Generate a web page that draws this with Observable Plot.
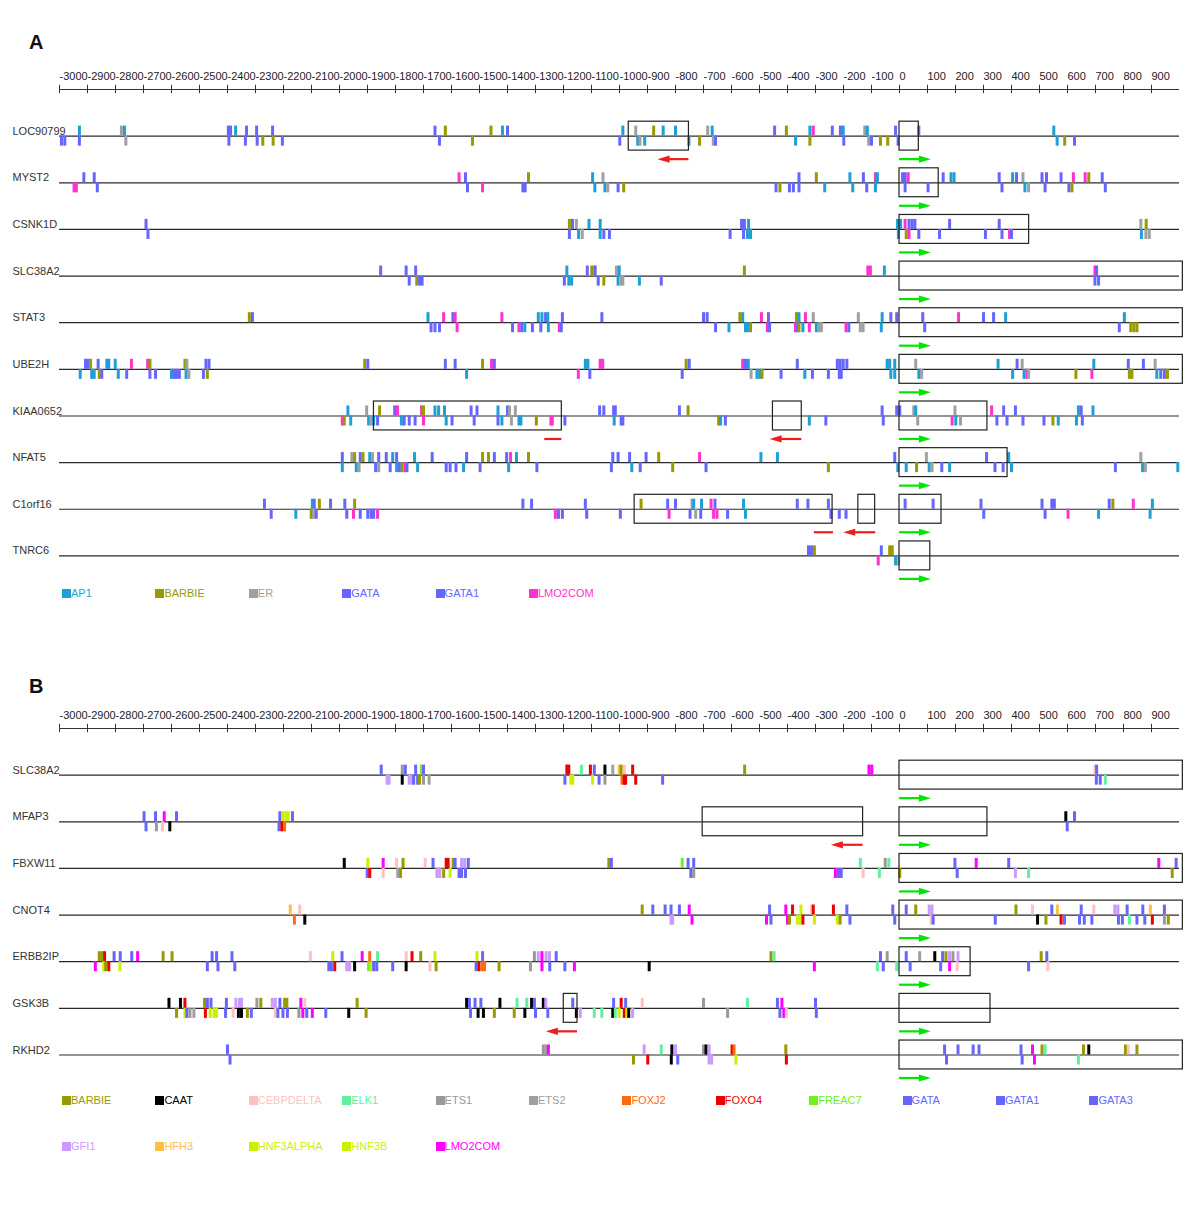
<!DOCTYPE html>
<html><head><meta charset="utf-8">
<script src="https://cdn.jsdelivr.net/npm/d3@7"></script>
<script src="https://cdn.jsdelivr.net/npm/@observablehq/plot@0.6"></script>
<style>
body{margin:0;background:#fff;font-family:"Liberation Sans",Arial,sans-serif;}
#page{position:relative;width:1200px;height:1211px;overflow:hidden;background:#fff;}
.title{position:absolute;left:29px;font-weight:bold;font-size:20px;line-height:20px;color:#111;}
.panel{position:absolute;left:0;}
.leg{position:absolute;height:13px;font-size:11px;line-height:13px;white-space:nowrap;}
.leg .sw{position:absolute;left:0;top:2px;width:9px;height:9px;}
.leg .tx{position:absolute;left:9px;top:0;}
</style></head>
<body><div id="page"></div>
<script>
// ---------- axis ----------
const ticks = d3.range(-3000, 901, 100);

// ---------- panel A factors ----------
const factorsA = ["AP1","BARBIE","ER","GATA","GATA1","LMO2COM"];
const colorsA  = ["#1f9fd4","#999900","#a0a0a0","#6666ff","#6666ff","#ff33cc"];
const codesA = {AP:"AP1",BA:"BARBIE",ER:"ER",G:"GATA",G1:"GATA1",LM:"LMO2COM"};

// ---------- panel B factors ----------
const factorsB = ["BARBIE","CAAT","CEBPDELTA","ELK1","ETS1","ETS2","FOXJ2","FOXO4","FREAC7","GATA","GATA1","GATA3","GFI1","HFH3","HNF3ALPHA","HNF3B","LMO2COM"];
const colorsB  = ["#999900","#000000","#ffc0c0","#60f0a0","#999999","#a0a0a0","#ff6a10","#ee0000","#70f020","#6666ff","#6666ff","#6666ff","#cc99ff","#ffc040","#ccf000","#ccf000","#ff00ff"];
const codesB = {BA:"BARBIE",CA:"CAAT",CE:"CEBPDELTA",EL:"ELK1",E1:"ETS1",E2:"ETS2",FJ:"FOXJ2",FO:"FOXO4",FR:"FREAC7",G:"GATA",G1:"GATA1",G3:"GATA3",GF:"GFI1",HF:"HFH3",HA:"HNF3ALPHA",HB:"HNF3B",LM:"LMO2COM"};

// ---------- panel A genes (positions in bp relative to TSS) ----------
const a_LOC90799 = {gene:"LOC90799",
 up:[[-2929,"AP"],[-2779,"ER"],[-2768,"AP"],[-2397,"G"],[-2389,"G"],[-2371,"AP"],[-2332,"G"],[-2296,"G"],[-2239,"G"],[-1659,"G"],[-1622,"BA"],[-1459,"BA"],[-1418,"AP"],[-1400,"G"],[-988,"AP"],[-942,"ER"],[-878,"BA"],[-844,"AP"],[-800,"AP"],[-685,"ER"],[-669,"AP"],[-446,"G"],[-404,"BA"],[-320,"AP"],[-308,"LM"],[-240,"G"],[-211,"G"],[-201,"AP"],[-124,"ER"],[-115,"AP"],[-14,"G"],[69,"G"],[551,"AP"]],
 dn:[[-2993,"G"],[-2981,"G"],[-2929,"G"],[-2763,"ER"],[-2395,"G"],[-2336,"G"],[-2294,"G"],[-2274,"BA"],[-2237,"BA"],[-2204,"G"],[-1643,"G"],[-1525,"BA"],[-999,"G"],[-935,"AP"],[-927,"ER"],[-910,"AP"],[-752,"AP"],[-714,"BA"],[-665,"ER"],[-657,"G"],[-371,"AP"],[-320,"BA"],[-199,"G"],[-110,"ER"],[-100,"G"],[-68,"BA"],[-42,"BA"],[-5,"G"],[563,"AP"],[590,"BA"],[625,"G"]],
 boxes:[[-967,-752],[0,69]], arrows:[[-752,-864,"rev"],[0,112,"fwd"]]};
const a_MYST2 = {gene:"MYST2",
 up:[[-2913,"G"],[-2876,"G"],[-1573,"LM"],[-1550,"G"],[-1325,"BA"],[-1096,"AP"],[-1059,"ER"],[-359,"G"],[-297,"BA"],[-177,"AP"],[-129,"G"],[-86,"LM"],[-79,"AP"],[11,"G"],[20,"G"],[31,"LM"],[156,"G"],[184,"AP"],[195,"AP"],[356,"G"],[404,"AP"],[418,"G"],[441,"ER"],[509,"G"],[525,"G"],[577,"G"],[621,"LM"],[663,"LM"],[676,"BA"],[724,"G"]],
 dn:[[-2948,"LM"],[-2940,"LM"],[-2865,"G"],[-1543,"G"],[-1489,"LM"],[-1345,"G"],[-1337,"G"],[-1088,"AP"],[-1052,"AP"],[-1042,"ER"],[-1005,"G"],[-985,"BA"],[-441,"G"],[-427,"BA"],[-393,"G"],[-379,"G"],[-359,"G"],[-267,"AP"],[-167,"AP"],[-117,"G"],[-86,"AP"],[20,"G"],[102,"G"],[366,"G"],[448,"AP"],[461,"ER"],[520,"G"],[605,"G"],[616,"BA"],[735,"G"]],
 boxes:[[0,140]], arrows:[[0,112,"fwd"]]};
const a_CSNK1D = {gene:"CSNK1D",
 up:[[-2691,"G"],[-1179,"BA"],[-1168,"G"],[-1154,"ER"],[-1109,"AP"],[-1069,"AP"],[-564,"G"],[-554,"G"],[-539,"AP"],[-7,"AP"],[4,"AP"],[20,"LM"],[34,"G"],[45,"G"],[55,"G"],[179,"G"],[356,"G"],[862,"ER"],[881,"BA"]],
 dn:[[-2684,"G"],[-1179,"G"],[-1146,"AP"],[-1133,"ER"],[-1069,"AP"],[-1056,"G"],[-1036,"G"],[-605,"G"],[-557,"G"],[-543,"AP"],[-532,"AP"],[-4,"AP"],[24,"BA"],[34,"LM"],[69,"G"],[143,"G"],[307,"G"],[366,"G"],[393,"LM"],[400,"G"],[864,"AP"],[880,"ER"],[892,"ER"]],
 boxes:[[0,463]], arrows:[[0,112,"fwd"]]};
const a_SLC38A2 = {gene:"SLC38A2",
 up:[[-1853,"G"],[-1762,"G"],[-1728,"G"],[-1188,"AP"],[-1115,"G"],[-1099,"BA"],[-1089,"ER"],[-1087,"G"],[-1011,"ER"],[-1001,"AP"],[-554,"BA"],[-113,"LM"],[-104,"LM"],[-54,"AP"],[698,"LM"],[704,"G"]],
 dn:[[-1751,"G"],[-1724,"BA"],[-1714,"G"],[-1705,"G"],[-1197,"G"],[-1181,"AP"],[-1171,"AP"],[-1076,"G"],[-1056,"BA"],[-1005,"AP"],[-994,"ER"],[-988,"ER"],[-929,"AP"],[-851,"G"],[698,"G"],[711,"G"]],
 boxes:[[0,1012]], arrows:[[0,112,"fwd"]]};
const a_STAT3 = {gene:"STAT3",
 up:[[-2322,"BA"],[-2311,"G"],[-1684,"AP"],[-1628,"LM"],[-1595,"G"],[-1587,"LM"],[-1420,"LM"],[-1290,"AP"],[-1277,"AP"],[-1264,"G"],[-1256,"AP"],[-1204,"G"],[-1063,"G"],[-700,"G"],[-687,"G"],[-570,"BA"],[-560,"AP"],[-493,"LM"],[-468,"G"],[-368,"BA"],[-359,"AP"],[-336,"LM"],[-308,"ER"],[-147,"ER"],[-62,"AP"],[-31,"G"],[-10,"G"],[83,"G"],[211,"LM"],[300,"G"],[336,"G"],[379,"AP"],[803,"AP"]],
 dn:[[-1673,"G"],[-1659,"G"],[-1643,"G"],[-1580,"LM"],[-1382,"G"],[-1359,"LM"],[-1349,"G"],[-1338,"AP"],[-1311,"G"],[-1281,"G"],[-1254,"AP"],[-1215,"LM"],[-1208,"G"],[-657,"G"],[-609,"AP"],[-550,"AP"],[-543,"AP"],[-532,"BA"],[-472,"LM"],[-464,"G"],[-372,"LM"],[-364,"G"],[-359,"BA"],[-345,"AP"],[-322,"LM"],[-297,"AP"],[-286,"ER"],[-279,"ER"],[-191,"LM"],[-181,"G"],[-140,"ER"],[-130,"ER"],[-65,"AP"],[90,"G"],[785,"G"],[826,"BA"],[837,"BA"],[848,"BA"]],
 boxes:[[0,1012]], arrows:[[0,112,"fwd"]]};
const a_UBE2H = {gene:"UBE2H",
 up:[[-2907,"G"],[-2899,"G"],[-2889,"BA"],[-2862,"G"],[-2831,"AP"],[-2824,"AP"],[-2801,"AP"],[-2743,"LM"],[-2685,"LM"],[-2677,"BA"],[-2552,"BA"],[-2545,"ER"],[-2477,"G"],[-2466,"G"],[-1910,"BA"],[-1899,"G"],[-1622,"G"],[-1587,"G"],[-1489,"BA"],[-1457,"LM"],[-1447,"G"],[-1122,"AP"],[-1113,"AP"],[-1069,"LM"],[-1060,"LM"],[-762,"BA"],[-751,"G"],[-560,"LM"],[-550,"G"],[-540,"AP"],[-365,"G"],[-222,"G"],[-212,"G"],[-201,"G"],[-188,"G"],[-44,"AP"],[-35,"AP"],[-17,"AP"],[58,"ER"],[352,"AP"],[420,"G"],[438,"ER"],[694,"AP"],[817,"G"],[871,"G"],[913,"ER"]],
 dn:[[-2926,"AP"],[-2885,"AP"],[-2876,"AP"],[-2858,"BA"],[-2849,"G"],[-2790,"AP"],[-2760,"G"],[-2677,"G"],[-2657,"G"],[-2600,"AP"],[-2591,"G"],[-2582,"G"],[-2572,"G"],[-2548,"AP"],[-2538,"ER"],[-2486,"G"],[-2472,"BA"],[-1546,"AP"],[-1147,"LM"],[-1106,"G"],[-776,"G"],[-530,"ER"],[-509,"AP"],[-499,"AP"],[-491,"BA"],[-423,"G"],[-338,"AP"],[-311,"G"],[-254,"G"],[-215,"G"],[-208,"G"],[-31,"AP"],[-17,"AP"],[69,"AP"],[79,"ER"],[404,"AP"],[445,"AP"],[455,"LM"],[461,"ER"],[630,"BA"],[687,"LM"],[821,"BA"],[830,"BA"],[919,"AP"],[933,"G"],[946,"G"],[957,"BA"]],
 boxes:[[0,1012]], arrows:[[0,112,"fwd"]]};
const a_KIAA0652 = {gene:"KIAA0652",
 up:[[-1970,"AP"],[-1903,"ER"],[-1857,"BA"],[-1803,"G"],[-1793,"LM"],[-1707,"LM"],[-1700,"BA"],[-1659,"AP"],[-1646,"AP"],[-1625,"AP"],[-1530,"G"],[-1509,"G"],[-1434,"AP"],[-1400,"G"],[-1393,"ER"],[-1372,"ER"],[-1071,"G"],[-1056,"G"],[-1021,"G"],[-1015,"G"],[-786,"G"],[-755,"BA"],[-62,"G"],[-10,"G"],[1,"G"],[51,"ER"],[58,"AP"],[198,"ER"],[329,"LM"],[372,"G"],[414,"G"],[639,"AP"],[649,"G"],[691,"AP"]],
 dn:[[-1990,"LM"],[-1983,"BA"],[-1960,"AP"],[-1896,"AP"],[-1888,"ER"],[-1878,"AP"],[-1864,"G"],[-1779,"AP"],[-1769,"G"],[-1751,"G"],[-1730,"G"],[-1700,"LM"],[-1619,"AP"],[-1598,"G"],[-1519,"G"],[-1434,"G"],[-1420,"AP"],[-1386,"ER"],[-1359,"AP"],[-1352,"AP"],[-1297,"BA"],[-1245,"LM"],[-1240,"LM"],[-1195,"G"],[-1019,"AP"],[-994,"G"],[-988,"G"],[-646,"BA"],[-639,"AP"],[-622,"G"],[-322,"AP"],[-263,"G"],[-58,"G"],[65,"ER"],[188,"LM"],[201,"AP"],[218,"ER"],[348,"G"],[384,"G"],[441,"G"],[516,"G"],[548,"BA"],[567,"AP"],[632,"AP"],[653,"G"]],
 boxes:[[-1877,-1206],[-452,-349],[0,314]], arrows:[[-1267,-1206,"seg"],[-349,-464,"rev"],[0,112,"fwd"]]};
const a_NFAT5 = {gene:"NFAT5",
 up:[[-1990,"G"],[-1956,"ER"],[-1946,"BA"],[-1926,"G"],[-1916,"BA"],[-1892,"AP"],[-1882,"ER"],[-1860,"G"],[-1833,"G"],[-1810,"AP"],[-1796,"G"],[-1732,"AP"],[-1669,"G"],[-1546,"G"],[-1489,"BA"],[-1468,"BA"],[-1447,"G"],[-1403,"G"],[-1389,"LM"],[-1368,"AP"],[-1325,"BA"],[-1024,"G"],[-1005,"G"],[-964,"G"],[-905,"G"],[-860,"BA"],[-714,"LM"],[-495,"AP"],[-436,"AP"],[-17,"G"],[96,"ER"],[311,"G"],[390,"AP"],[862,"ER"]],
 dn:[[-1990,"AP"],[-1940,"AP"],[-1930,"ER"],[-1871,"G"],[-1860,"ER"],[-1819,"G"],[-1796,"AP"],[-1786,"G"],[-1776,"BA"],[-1765,"LM"],[-1759,"G"],[-1721,"AP"],[-1619,"G"],[-1605,"G"],[-1584,"G"],[-1557,"AP"],[-1498,"G"],[-1396,"AP"],[-1295,"G"],[-1029,"G"],[-956,"AP"],[-926,"G"],[-810,"BA"],[-691,"G"],[-254,"BA"],[-6,"AP"],[24,"AP"],[61,"BA"],[106,"AP"],[116,"ER"],[151,"G"],[179,"AP"],[341,"G"],[370,"G"],[400,"AP"],[771,"G"],[868,"AP"],[878,"ER"],[994,"AP"]],
 boxes:[[0,386]], arrows:[[0,112,"fwd"]]};
const a_C1orf16 = {gene:"C1orf16",
 up:[[-2268,"G"],[-2097,"AP"],[-2090,"G"],[-2072,"BA"],[-2032,"G"],[-1981,"G"],[-1946,"BA"],[-1345,"G"],[-1314,"G"],[-1122,"G"],[-923,"BA"],[-828,"G"],[-800,"G"],[-741,"ER"],[-735,"AP"],[-707,"AP"],[-673,"LM"],[-659,"G"],[-557,"AP"],[-365,"G"],[-327,"G"],[-254,"G"],[20,"G"],[120,"G"],[291,"G"],[509,"G"],[544,"G"],[553,"G"],[749,"G"],[762,"BA"],[835,"LM"],[903,"AP"]],
 dn:[[-2244,"G"],[-2156,"AP"],[-2101,"BA"],[-2093,"ER"],[-2083,"G"],[-1974,"G"],[-1950,"LM"],[-1926,"G"],[-1899,"G"],[-1887,"G"],[-1878,"G"],[-1864,"LM"],[-1229,"LM"],[-1218,"G"],[-1204,"G"],[-1117,"G"],[-997,"G"],[-823,"LM"],[-748,"G"],[-728,"ER"],[-710,"G"],[-664,"LM"],[-652,"LM"],[-614,"G"],[-550,"AP"],[-245,"G"],[-215,"G"],[-191,"G"],[301,"G"],[520,"G"],[602,"LM"],[711,"AP"],[895,"AP"]],
 boxes:[[-946,-239],[-147,-87],[0,150]], arrows:[[-304,-236,"seg"],[-85,-201,"rev"],[0,112,"fwd"]]};
const a_TNRC6 = {gene:"TNRC6",
 up:[[-325,"G"],[-314,"G"],[-304,"BA"],[-65,"G"],[-35,"BA"],[-26,"BA"]],
 dn:[[-76,"LM"],[-14,"AP"],[-3,"ER"]],
 boxes:[[0,110]], arrows:[[0,112,"fwd"]]};

// ---------- panel B genes ----------
const b_SLC38A2 = {gene:"SLC38A2",
 up:[[-1851,"G"],[-1776,"E1"],[-1765,"G1"],[-1728,"G"],[-1707,"FR"],[-1700,"G"],[-1188,"FO"],[-1181,"FO"],[-1136,"EL"],[-1104,"FO"],[-1090,"G"],[-1052,"CA"],[-1024,"E2"],[-1001,"HF"],[-994,"BA"],[-983,"CE"],[-953,"FO"],[-553,"BA"],[-109,"LM"],[-99,"LM"],[698,"CE"],[704,"G"]],
 dn:[[-1830,"GF"],[-1823,"GF"],[-1776,"CA"],[-1751,"GF"],[-1741,"GF"],[-1735,"G"],[-1721,"G"],[-1714,"BA"],[-1700,"E1"],[-1680,"E2"],[-1195,"G"],[-1174,"HB"],[-1167,"HA"],[-1096,"HB"],[-1073,"G"],[-1052,"E1"],[-991,"FJ"],[-983,"FO"],[-978,"FO"],[-942,"FO"],[-846,"G"],[703,"G"],[717,"G"],[735,"EL"]],
 boxes:[[0,1012]], arrows:[[0,112,"fwd"]]};
const b_MFAP3 = {gene:"MFAP3",
 up:[[-2698,"G"],[-2657,"G"],[-2626,"LM"],[-2582,"G"],[-2213,"G"],[-2203,"HB"],[-2192,"HA"],[-2183,"HB"],[-2168,"G"],[594,"CA"],[625,"G"]],
 dn:[[-2691,"G"],[-2654,"E1"],[-2632,"CE"],[-2606,"CA"],[-2216,"G"],[-2206,"FO"],[-2196,"FJ"],[599,"G"]],
 boxes:[[-703,-130],[0,314]], arrows:[[-130,-245,"rev"],[0,112,"fwd"]]};
const b_FBXW11 = {gene:"FBXW11",
 up:[[-1983,"CA"],[-1899,"HB"],[-1844,"LM"],[-1796,"CE"],[-1773,"BA"],[-1694,"CE"],[-1666,"G"],[-1619,"FO"],[-1612,"FO"],[-1594,"BA"],[-1587,"G"],[-1564,"GF"],[-1553,"GF"],[-1540,"G"],[-1038,"BA"],[-1029,"G"],[-776,"FR"],[-755,"G"],[-735,"G"],[-140,"EL"],[-51,"E1"],[-38,"EL"],[198,"G"],[274,"LM"],[390,"G"],[926,"LM"],[988,"G"]],
 dn:[[-1901,"G"],[-1892,"FO"],[-1844,"CE"],[-1792,"E2"],[-1782,"BA"],[-1652,"GF"],[-1642,"GF"],[-1628,"BA"],[-1605,"HA"],[-1573,"G"],[-1564,"G"],[-1550,"G"],[-745,"G"],[-735,"E1"],[-229,"LM"],[-218,"G"],[-208,"G"],[-130,"CE"],[-72,"EL"],[1,"BA"],[206,"G"],[414,"GF"],[461,"EL"],[974,"BA"]],
 boxes:[[0,1012]], arrows:[[0,112,"fwd"]]};
const b_CNOT4 = {gene:"CNOT4",
 up:[[-2176,"HF"],[-2142,"CE"],[-919,"BA"],[-881,"G"],[-837,"G"],[-816,"G"],[-786,"G"],[-751,"LM"],[-464,"G"],[-406,"LM"],[-382,"FO"],[-352,"HB"],[-314,"CE"],[-308,"FO"],[-236,"FO"],[-188,"G"],[-24,"G"],[24,"G"],[58,"BA"],[106,"GF"],[116,"GF"],[416,"BA"],[475,"CE"],[544,"G"],[564,"HF"],[649,"G"],[694,"CE"],[769,"GF"],[780,"GF"],[813,"G"],[869,"G"],[896,"HF"],[946,"G"]],
 dn:[[-2161,"FJ"],[-2124,"CA"],[-816,"GF"],[-810,"GF"],[-741,"LM"],[-475,"LM"],[-459,"G"],[-400,"LM"],[-393,"BA"],[-365,"HB"],[-355,"HA"],[-345,"FO"],[-304,"HB"],[-222,"HB"],[-212,"BA"],[-177,"G"],[-17,"G"],[113,"CE"],[120,"G"],[342,"G"],[493,"CA"],[523,"BA"],[577,"FO"],[589,"G"],[643,"G"],[660,"G"],[687,"G"],[782,"G"],[796,"G"],[821,"EL"],[848,"G"],[876,"G"],[903,"FO"],[946,"E1"],[960,"BA"]],
 boxes:[[0,1012]], arrows:[[0,112,"fwd"]]};
const b_ERBB2IP = {gene:"ERBB2IP",
 up:[[-2858,"BA"],[-2849,"BA"],[-2839,"FO"],[-2805,"G"],[-2783,"G"],[-2742,"G"],[-2721,"LM"],[-2630,"BA"],[-2598,"BA"],[-2455,"G"],[-2439,"G"],[-2384,"G"],[-2104,"CE"],[-2024,"HB"],[-1991,"G"],[-1919,"LM"],[-1892,"FJ"],[-1864,"EL"],[-1762,"CE"],[-1741,"FO"],[-1710,"BA"],[-1659,"HB"],[-1509,"HB"],[-1489,"G"],[-1304,"E1"],[-1290,"GF"],[-1277,"LM"],[-1262,"GF"],[-1250,"GF"],[-1226,"G"],[-459,"BA"],[-448,"EL"],[-68,"G"],[-44,"E1"],[24,"G"],[72,"E2"],[126,"CA"],[154,"G"],[166,"BA"],[179,"GF"],[191,"E1"],[209,"GF"],[506,"BA"],[526,"G"]],
 dn:[[-2872,"LM"],[-2842,"HB"],[-2835,"BA"],[-2824,"FO"],[-2784,"HB"],[-2472,"G"],[-2434,"G"],[-2374,"G"],[-2038,"G"],[-2029,"G"],[-2017,"FO"],[-1974,"GF"],[-1964,"GF"],[-1946,"CA"],[-1896,"FR"],[-1887,"HB"],[-1878,"G"],[-1867,"G"],[-1810,"G"],[-1762,"CA"],[-1677,"CE"],[-1655,"BA"],[-1512,"G"],[-1502,"FO"],[-1491,"FJ"],[-1482,"FJ"],[-1430,"BA"],[-1318,"E1"],[-1277,"LM"],[-1249,"G"],[-1195,"G"],[-1161,"LM"],[-894,"CA"],[-304,"LM"],[-79,"EL"],[-58,"G"],[-10,"EL"],[38,"G"],[147,"G"],[179,"LM"],[206,"CE"],[461,"G"],[530,"CE"]],
 boxes:[[0,254]], arrows:[[0,112,"fwd"]]};
const b_GSK3B = {gene:"GSK3B",
 up:[[-2609,"CA"],[-2568,"CA"],[-2552,"FO"],[-2482,"BA"],[-2472,"G"],[-2459,"G"],[-2404,"G"],[-2370,"GF"],[-2357,"GF"],[-2350,"GF"],[-2295,"E1"],[-2281,"BA"],[-2240,"GF"],[-2229,"GF"],[-2213,"G"],[-2196,"BA"],[-2188,"BA"],[-2138,"LM"],[-2124,"CE"],[-1937,"BA"],[-1546,"CA"],[-1536,"G"],[-1516,"G"],[-1495,"G"],[-1427,"CA"],[-1366,"EL"],[-1331,"EL"],[-1314,"CA"],[-1304,"G"],[-1272,"CA"],[-1263,"GF"],[-1167,"G"],[-1021,"G"],[-994,"FO"],[-978,"G"],[-919,"CE"],[-700,"E1"],[-543,"EL"],[-436,"G"],[-420,"LM"],[-300,"G"]],
 dn:[[-2582,"BA"],[-2552,"HB"],[-2545,"G"],[-2534,"E1"],[-2520,"E2"],[-2479,"FO"],[-2462,"HB"],[-2448,"HB"],[-2439,"HA"],[-2407,"G"],[-2380,"CE"],[-2361,"CA"],[-2350,"CA"],[-2329,"BA"],[-2315,"G"],[-2229,"CE"],[-2220,"G"],[-2202,"G"],[-2186,"G"],[-2145,"E1"],[-2131,"LM"],[-2117,"G"],[-2097,"LM"],[-2049,"G"],[-1967,"CA"],[-1905,"BA"],[-1532,"G"],[-1505,"CA"],[-1486,"CA"],[-1447,"BA"],[-1376,"BA"],[-1338,"CA"],[-1300,"G"],[-1256,"G"],[-1154,"CA"],[-1140,"GF"],[-1090,"EL"],[-1063,"EL"],[-1024,"CA"],[-1015,"EL"],[-1001,"HB"],[-983,"FO"],[-974,"HB"],[-967,"CA"],[-953,"GF"],[-614,"E1"],[-427,"G"],[-413,"LM"],[-404,"CE"],[-297,"G"]],
 boxes:[[-1199,-1150],[0,325]], arrows:[[-1150,-1263,"rev"],[0,112,"fwd"]]};
const b_RKHD2 = {gene:"RKHD2",
 up:[[-2400,"G"],[-1272,"E1"],[-1263,"E2"],[-1254,"LM"],[-912,"GF"],[-851,"EL"],[-813,"CA"],[-800,"GF"],[-700,"E1"],[-691,"CA"],[-680,"GF"],[-598,"FO"],[-591,"FJ"],[-406,"BA"],[161,"G"],[209,"G"],[263,"G"],[284,"G"],[434,"G"],[475,"LM"],[509,"BA"],[520,"EL"],[657,"BA"],[676,"CA"],[807,"BA"],[817,"CE"],[848,"BA"]],
 dn:[[-2391,"G"],[-950,"BA"],[-899,"FO"],[-815,"CA"],[-792,"G"],[-680,"GF"],[-671,"GF"],[-584,"HB"],[-404,"FO"],[168,"G"],[438,"G"],[482,"LM"],[639,"EL"]],
 boxes:[[0,1012]], arrows:[[0,112,"fwd"]]};

const rowsA = [a_LOC90799,a_MYST2,a_CSNK1D,a_SLC38A2,a_STAT3,a_UBE2H,a_KIAA0652,a_NFAT5,a_C1orf16,a_TNRC6];
const rowsB = [b_SLC38A2,b_MFAP3,b_FBXW11,b_CNOT4,b_ERBB2IP,b_GSK3B,b_RKHD2];

// ---------- drawing ----------
const FONT = '"Liberation Sans", Arial, sans-serif';
const headR = {draw(ctx){ctx.moveTo(0,0);ctx.lineTo(-12,-3.6);ctx.lineTo(-12,3.6);ctx.closePath();}};
const headL = {draw(ctx){ctx.moveTo(0,0);ctx.lineTo(12,-3.6);ctx.lineTo(12,3.6);ctx.closePath();}};
const GREEN = "#00e600", RED = "#f01c1c";
const BAR = 0.215, BOX = 0.31, ARR = 0.493;

function panel(rows, codes, factors, colors, height, marginBottom) {
  const sites = [];
  rows.forEach((r, i) => {
    r.up.forEach(([pos, c]) => sites.push({row: i, pos, f: codes[c], s: -1}));
    r.dn.forEach(([pos, c]) => sites.push({row: i, pos, f: codes[c], s: 1}));
  });
  const lines = rows.map((r, i) => ({row: i, gene: r.gene}));
  const boxes = rows.flatMap((r, i) => r.boxes.map(([a, b]) => ({row: i, a, b})));
  const arrows = rows.flatMap((r, i) => r.arrows.map(([a, b, k]) => ({row: i, a, b, k})));
  const fwd = arrows.filter(d => d.k === "fwd");
  const rev = arrows.filter(d => d.k === "rev");
  const seg = arrows.filter(d => d.k === "seg");
  const shaftEnd = d => d.b - Math.sign(d.b - d.a) * 30;
  return Plot.plot({
    width: 1200, height,
    marginLeft: 59, marginRight: 21, marginTop: 29, marginBottom,
    style: {fontFamily: FONT, fontSize: "11px", background: "white", overflow: "visible"},
    x: {domain: [-3000, 1000], axis: null},
    y: {domain: [-1, rows.length - 1], reverse: true, axis: null},
    color: {type: "ordinal", domain: factors, range: colors},
    marks: [
      Plot.ruleY([-1], {x1: -3000, x2: 1000, stroke: "#333", strokeWidth: 1}),
      Plot.ruleX(ticks, {x: d => d, y1: -1.09, y2: -0.91, stroke: "#333", strokeWidth: 1}),
      Plot.text(ticks, {x: d => d, y: -1, dy: -13.5, text: d => String(d), textAnchor: "start", fill: "#222", fontSize: 11}),
      Plot.ruleY(lines, {y: "row", x1: -3000, x2: 1000, stroke: "#2a2a2a", strokeWidth: 1.2}),
      Plot.text(lines, {x: -3000, y: "row", dx: -47, dy: -5, text: "gene", textAnchor: "start", fill: "#333", fontSize: 11}),
      Plot.ruleX(sites, {x: "pos", y1: "row", y2: d => d.row + d.s * BAR, stroke: "f", strokeWidth: 3}),
      Plot.rect(boxes, {x1: "a", x2: "b", y1: d => d.row - BOX, y2: d => d.row + BOX, fill: "none", stroke: "#222", strokeWidth: 1.2}),
      Plot.ruleY(fwd, {y: d => d.row + ARR, x1: "a", x2: shaftEnd, stroke: GREEN, strokeWidth: 2.2}),
      Plot.dot(fwd, {x: "b", y: d => d.row + ARR, symbol: headR, fill: GREEN, r: 4}),
      Plot.ruleY(rev, {y: d => d.row + ARR, x1: "a", x2: shaftEnd, stroke: RED, strokeWidth: 2.2}),
      Plot.dot(rev, {x: "b", y: d => d.row + ARR, symbol: headL, fill: RED, r: 4}),
      Plot.ruleY(seg, {y: d => d.row + ARR, x1: "a", x2: "b", stroke: RED, strokeWidth: 2.2})
    ]
  });
}

function legend(parent, factors, colors, top, perRow) {
  factors.forEach((f, i) => {
    const r = Math.floor(i / perRow), c = i % perRow;
    const d = document.createElement("div");
    d.className = "leg";
    d.style.left = (62 + c * 93.4) + "px";
    d.style.top = (top + r * 46.7 - 6.5) + "px";
    d.innerHTML = `<span class="sw" style="background:${colors[i]}"></span><span class="tx" style="color:${colors[i]}">${f}</span>`;
    parent.appendChild(d);
  });
}

const page = document.getElementById("page");
function addTitle(t, top) {
  const d = document.createElement("div");
  d.className = "title"; d.style.top = top + "px"; d.textContent = t;
  page.appendChild(d);
}
addTitle("A", 32);
const svgA = panel(rowsA, codesA, factorsA, colorsA, 524, 28.6);
const wa = document.createElement("div"); wa.className = "panel"; wa.style.top = "60px"; wa.appendChild(svgA); page.appendChild(wa);
legend(page, factorsA, colorsA, 593.5, 12);

addTitle("B", 676);
const svgB = panel(rowsB, codesB, factorsB, colorsB, 385, 29.5);
const wb = document.createElement("div"); wb.className = "panel"; wb.style.top = "699px"; wb.appendChild(svgB); page.appendChild(wb);
legend(page, factorsB, colorsB, 1100, 12);
</script>
</body></html>
